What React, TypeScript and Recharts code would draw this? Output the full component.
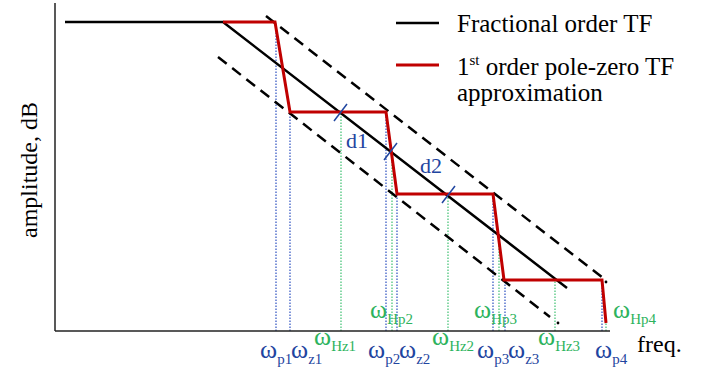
import React from 'react';
import { LineChart, Line, XAxis, YAxis, ReferenceLine, ReferenceDot } from 'recharts';

// x = log-frequency position, y = amplitude (both in arbitrary plot units)
const fractionalTF = [
  { x: 10, y: 309 },
  { x: 168, y: 309 },
  { x: 512, y: 43 },
];

const poleZeroTF = [
  { x: 168, y: 309 },
  { x: 220, y: 309 },
  { x: 235, y: 219 },
  { x: 331, y: 219 },
  { x: 342, y: 137 },
  { x: 438, y: 137 },
  { x: 449, y: 51 },
  { x: 547, y: 51 },
  { x: 551, y: 8 },
];

const upperBound = [
  { x: 211, y: 315 },
  { x: 548, y: 53 },
];

const lowerBound = [
  { x: 163, y: 274 },
  { x: 495, y: 14 },
];

const boundEnds = [
  { x: 551, y: 49 },
  { x: 503, y: 8 },
];

// pole / zero frequencies of the approximation (blue) and their heights
const poleZeroFreqs = [
  { name: 'p1', x: 221, top: 309 },
  { name: 'z1', x: 235, top: 219 },
  { name: 'p2', x: 331, top: 219 },
  { name: 'z2', x: 342, top: 137 },
  { name: 'p3', x: 438, top: 137 },
  { name: 'z3', x: 450, top: 51 },
  { name: 'p4', x: 547, top: 51 },
];

// intersection frequencies (green)
const crossFreqs = [
  { name: 'Hz1', x: 286, top: 219 },
  { name: 'Hp2', x: 337, top: 179 },
  { name: 'Hz2', x: 393, top: 137 },
  { name: 'Hp3', x: 444, top: 94 },
  { name: 'Hz3', x: 500, top: 51 },
  { name: 'Hp4', x: 551, top: 8 },
];

// small tick marks where the step meets the fractional line
const crossTicks = [
  { x1: 279, y1: 210, x2: 292, y2: 227 },
  { x1: 329, y1: 171, x2: 342, y2: 188 },
  { x1: 387, y1: 128, x2: 400, y2: 145 },
];

const BLUE = '#1f45a0';
const GREEN = '#2db35d';
const RED = '#c00000';
const FONT = '"Liberation Serif", "Times New Roman", serif';

const Omega = ({ x, y, sub, color }: { x: number; y: number; sub: string; color: string }) => (
  <text x={x} y={y} fill={color} fontSize={26} fontFamily={FONT}>
    ω<tspan fontSize={15} dy={6}>{sub}</tspan>
  </text>
);

export default function App() {
  return (
    <div style={{ position: 'absolute', left: 0, top: 0, width: 702, height: 372, background: '#fff' }}>
      <LineChart width={702} height={372} margin={{ top: 3, right: 92, bottom: 0, left: 0 }}>
        <XAxis
          type="number"
          dataKey="x"
          domain={[0, 555]}
          height={41}
          tick={false}
          tickLine={false}
          axisLine={{ stroke: '#222', strokeWidth: 1.5 }}
        />
        <YAxis
          type="number"
          dataKey="y"
          domain={[0, 328]}
          width={55}
          tick={false}
          tickLine={false}
          axisLine={{ stroke: '#222', strokeWidth: 1.5 }}
        />
        {poleZeroFreqs.map((f) => (
          <ReferenceLine
            key={f.name}
            segment={[{ x: f.x, y: 0 }, { x: f.x, y: f.top }]}
            stroke="#2b4fc0"
            strokeWidth={1.2}
            strokeDasharray="1.5 1.5"
          />
        ))}
        {crossFreqs.map((f) => (
          <ReferenceLine
            key={f.name}
            segment={[{ x: f.x, y: 0 }, { x: f.x, y: f.top }]}
            stroke="#3cc070"
            strokeWidth={1.2}
            strokeDasharray="1.5 1.5"
          />
        ))}
        <Line data={upperBound} dataKey="y" stroke="#000" strokeWidth={2.5} strokeDasharray="11 7" dot={false} isAnimationActive={false} />
        <Line data={lowerBound} dataKey="y" stroke="#000" strokeWidth={2.5} strokeDasharray="11 7" dot={false} isAnimationActive={false} />
        <Line data={fractionalTF} dataKey="y" stroke="#000" strokeWidth={2.5} dot={false} isAnimationActive={false} />
        <Line data={poleZeroTF} dataKey="y" stroke={RED} strokeWidth={3} dot={false} isAnimationActive={false} />
        {crossTicks.map((c, i) => (
          <ReferenceLine
            key={i}
            segment={[{ x: c.x1, y: c.y1 }, { x: c.x2, y: c.y2 }]}
            stroke={BLUE}
            strokeWidth={1.5}
          />
        ))}
        {boundEnds.map((p, i) => (
          <ReferenceDot key={i} x={p.x} y={p.y} r={1.4} fill="#000" stroke="none" />
        ))}
      </LineChart>

      <svg width={702} height={372} style={{ position: 'absolute', left: 0, top: 0, pointerEvents: 'none' }}>
        <text
          x={37}
          y={170}
          transform="rotate(-90 37 170)"
          textAnchor="middle"
          fontSize={24}
          fontFamily={FONT}
          fill="#000"
        >
          amplitude, dB
        </text>

        {/* legend */}
        <line x1={396} y1={23} x2={439} y2={23} stroke="#000" strokeWidth={2.5} />
        <text x={457} y={32} fontSize={25} fontFamily={FONT} fill="#000">Fractional order TF</text>
        <line x1={396} y1={65} x2={439} y2={65} stroke={RED} strokeWidth={3} />
        <text x={457} y={75} fontSize={25} fontFamily={FONT} fill="#000">
          1<tspan fontSize={15} dy={-10}>st</tspan>
          <tspan dy={10}> order pole-zero TF</tspan>
        </text>
        <text x={457} y={101} fontSize={25} fontFamily={FONT} fill="#000">approximation</text>

        <text x={346} y={148} fontSize={22} fontFamily={FONT} fill={BLUE}>d1</text>
        <text x={420} y={173} fontSize={22} fontFamily={FONT} fill={BLUE}>d2</text>

        <Omega x={260} y={358} sub="p1" color={BLUE} />
        <Omega x={291} y={358} sub="z1" color={BLUE} />
        <Omega x={368} y={358} sub="p2" color={BLUE} />
        <Omega x={399} y={358} sub="z2" color={BLUE} />
        <Omega x={477} y={358} sub="p3" color={BLUE} />
        <Omega x={508} y={358} sub="z3" color={BLUE} />
        <Omega x={595} y={358} sub="p4" color={BLUE} />

        <Omega x={314} y={345} sub="Hz1" color={GREEN} />
        <Omega x={432} y={345} sub="Hz2" color={GREEN} />
        <Omega x={538} y={345} sub="Hz3" color={GREEN} />
        <Omega x={370} y={318} sub="Hp2" color={GREEN} />
        <Omega x={474} y={318} sub="Hp3" color={GREEN} />
        <Omega x={613} y={318} sub="Hp4" color={GREEN} />

        <text x={637} y={352} fontSize={24} fontFamily={FONT} fill="#000">freq.</text>
      </svg>
    </div>
  );
}
